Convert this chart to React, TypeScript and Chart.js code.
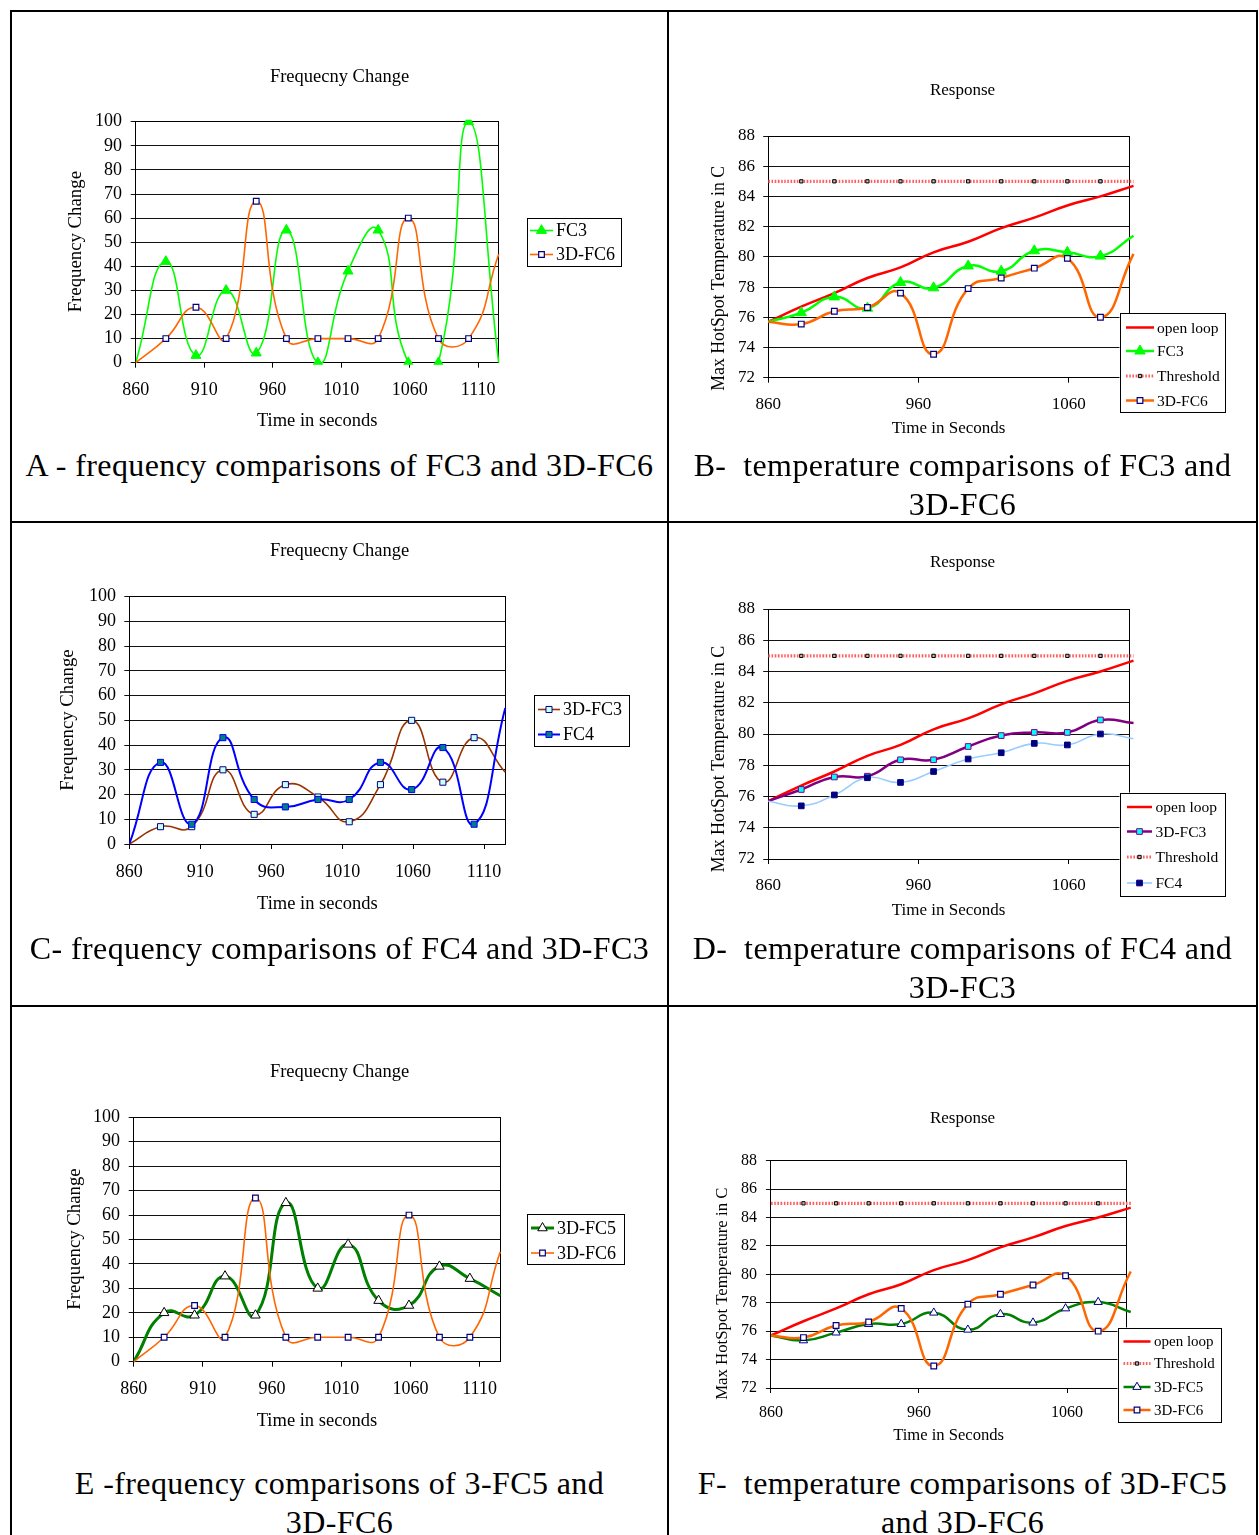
import React, { useEffect, useRef } from 'react';
import { Chart, registerables } from 'chart.js';

Chart.register(...registerables);
Chart.defaults.font.family = '"Liberation Serif", "Times New Roman", serif';
Chart.defaults.color = '#000';

// ---------------- DATA ----------------
const timeSec = [860, 882, 904, 926, 948, 970, 993, 1015, 1037, 1059, 1081, 1103, 1125];
const freqTicks = [860, 910, 960, 1010, 1060, 1110];
const tempTicks = [860, 960, 1060];

const freqFC3 = [0, 42, 3, 30, 4, 55, 0, 38, 55, 0, 0, 100, 0];
const freq3DFC6 = [0, 10, 23, 10, 67, 10, 10, 10, 10, 60, 10, 10, 45];
const freq3DFC3 = [0, 7, 7, 30, 12, 24, 19, 9, 24, 50, 25, 43, 29];
const freqFC4 = [0, 33, 8, 43, 18, 15, 18, 18, 33, 22, 39, 8, 55];
const freq3DFC5 = [0, 20, 19, 35, 19, 65, 30, 48, 25, 23, 39, 34, 27];

const tempOpenLoop = [75.7, 76.7, 77.6, 78.6, 79.3, 80.3, 81.0, 81.9, 82.6, 83.4, 84.0, 84.7];
const tempThreshold = [85, 85, 85, 85, 85, 85, 85, 85, 85, 85, 85, 85];
const tempFC3 = [75.7, 76.3, 77.35, 76.6, 78.3, 77.95, 79.4, 79.05, 80.4, 80.3, 80.05, 81.4];
const temp3DFC6 = [75.7, 75.55, 76.4, 76.65, 77.6, 73.55, 77.9, 78.6, 79.25, 79.9, 76.0, 80.2];
const temp3DFC3 = [75.7, 76.45, 77.25, 77.3, 78.35, 78.35, 79.2, 79.9, 80.1, 80.1, 80.9, 80.7];
const tempFC4 = [75.7, 75.4, 76.1, 77.2, 76.9, 77.6, 78.4, 78.8, 79.4, 79.3, 80.0, 79.7];
const temp3DFC5 = [75.7, 75.35, 75.9, 76.5, 76.5, 77.3, 76.1, 77.2, 76.6, 77.6, 78.05, 77.35];

// ---------------- TYPES ----------------
type Geom = {
  canvas: { l: number; t: number; w: number; h: number };
  titleY: number;
  area: { l: number; r: number; t: number; b: number };
  yTitleX: number;
  yTitleY: number;
  xTitleY: number;
  xLabelY: number;
  yLabelRight: number;
  fonts: { title: number; yTitle: number; xTitle: number; tick: number };
};
type Legend = {
  x: number; y: number; w: number; h: number; rows: number[];
  lineX0: number; lineX1: number; markerX: number; textX: number; font: number;
};
type Series = {
  label: string; data: number[]; color: string; width: number; dash?: number[];
  marker: 'triangle' | 'rect' | 'none'; r: number; fill: string; stroke: string; strokeW: number;
};
type Spec = {
  geom: Geom; title: string; xTitle: string; yTitle: string;
  xMin: number; xMax: number; xTicks: number[]; yMin: number; yMax: number; yStep: number;
  series: Series[]; legend: Legend;
};

const TICK = 5;
const FONT = '"Liberation Serif", "Times New Roman", serif';

// ---------------- STYLES ----------------
const sOpen = (w = 2.5): Omit<Series, 'data'> => ({ label: 'open loop', color: '#FF0000', width: w, marker: 'none', r: 0, fill: '#FF0000', stroke: '#FF0000', strokeW: 0 });
const sThresh = (): Omit<Series, 'data'> => ({ label: 'Threshold', color: '#FF5E5E', width: 3.2, dash: [1.6, 1.6], marker: 'rect', r: 2.3, fill: '#BBBBBB', stroke: '#000000', strokeW: 1 });
const sFC6 = (w: number): Omit<Series, 'data'> => ({ label: '3D-FC6', color: '#FF6600', width: w, marker: 'rect', r: 4, fill: '#FFFFFF', stroke: '#000080', strokeW: 1.2 });

function S(base: Omit<Series, 'data'>, data: number[]): Series { return { ...base, data }; }

const freqFonts = { title: 18.5, yTitle: 18.8, xTitle: 18.5, tick: 18 };

const specs: Spec[] = [
  {
    geom: { canvas: { l: 12, t: 12, w: 655, h: 425 }, titleY: 77, area: { l: 135.7, r: 498.7, t: 121.7, b: 362.7 }, yTitleX: 76, yTitleY: 241.7, xTitleY: 421, xLabelY: 390, yLabelRight: 122, fonts: freqFonts },
    title: 'Frequecny Change', xTitle: 'Time in seconds', yTitle: 'Frequency Change',
    xMin: 860, xMax: 1125, xTicks: freqTicks, yMin: 0, yMax: 100, yStep: 10,
    series: [
      S({ label: 'FC3', color: '#00FF00', width: 1.6, marker: 'triangle', r: 5.8, fill: '#00FF00', stroke: '#00FF00', strokeW: 1 }, freqFC3),
      S(sFC6(1.6), freq3DFC6),
    ],
    legend: { x: 527, y: 218, w: 94, h: 48, rows: [230.5, 254.5], lineX0: 530, lineX1: 553, markerX: 541.5, textX: 556, font: 18 },
  },
  {
    geom: { canvas: { l: 669, t: 12, w: 587, h: 440 }, titleY: 91, area: { l: 768.2, r: 1129, t: 136, b: 377.7 }, yTitleX: 719.6, yTitleY: 278.3, xTitleY: 428.3, xLabelY: 404.3, yLabelRight: 755, fonts: { title: 17, yTitle: 17.8, xTitle: 17, tick: 17 } },
    title: 'Response', xTitle: 'Time in Seconds', yTitle: 'Max HotSpot Temperature in C',
    xMin: 860, xMax: 1100, xTicks: tempTicks, yMin: 72, yMax: 88, yStep: 2,
    series: [
      S(sOpen(), tempOpenLoop),
      S({ label: 'FC3', color: '#00FF00', width: 2.5, marker: 'triangle', r: 6, fill: '#00FF00', stroke: '#00FF00', strokeW: 1 }, tempFC3),
      S(sThresh(), tempThreshold),
      S(sFC6(2.5), temp3DFC6),
    ],
    legend: { x: 1119.5, y: 313, w: 105, h: 99, rows: [327.5, 351, 376, 400.5], lineX0: 1126, lineX1: 1154, markerX: 1140, textX: 1157, font: 15.5 },
  },
  {
    geom: { canvas: { l: 12, t: 524, w: 655, h: 425 }, titleY: 551, area: { l: 129.3, r: 505.3, t: 596.7, b: 844 }, yTitleX: 68, yTitleY: 720, xTitleY: 904, xLabelY: 872, yLabelRight: 116, fonts: freqFonts },
    title: 'Frequecny Change', xTitle: 'Time in seconds', yTitle: 'Frequency Change',
    xMin: 860, xMax: 1125, xTicks: freqTicks, yMin: 0, yMax: 100, yStep: 10,
    series: [
      S({ label: '3D-FC3', color: '#993300', width: 1.6, marker: 'rect', r: 4.3, fill: '#CCFFFF', stroke: '#000080', strokeW: 1 }, freq3DFC3),
      S({ label: 'FC4', color: '#0000FF', width: 2, marker: 'rect', r: 4.3, fill: '#008080', stroke: '#0000FF', strokeW: 1 }, freqFC4),
    ],
    legend: { x: 534, y: 694.5, w: 95, h: 51, rows: [709.5, 734.5], lineX0: 538, lineX1: 560, markerX: 549, textX: 563, font: 18 },
  },
  {
    geom: { canvas: { l: 669, t: 524, w: 587, h: 440 }, titleY: 563, area: { l: 768.2, r: 1129, t: 609, b: 859 }, yTitleX: 719.6, yTitleY: 759, xTitleY: 910.7, xLabelY: 886, yLabelRight: 755, fonts: { title: 17, yTitle: 17.9, xTitle: 17, tick: 17 } },
    title: 'Response', xTitle: 'Time in Seconds', yTitle: 'Max HotSpot Temperature in C',
    xMin: 860, xMax: 1100, xTicks: tempTicks, yMin: 72, yMax: 88, yStep: 2,
    series: [
      S(sOpen(), tempOpenLoop),
      S({ label: '3D-FC3', color: '#800080', width: 2.5, marker: 'rect', r: 4, fill: '#00FFFF', stroke: '#800080', strokeW: 1 }, temp3DFC3),
      S(sThresh(), tempThreshold),
      S({ label: 'FC4', color: '#99CCFF', width: 1.6, marker: 'rect', r: 4, fill: '#000080', stroke: '#000080', strokeW: 1 }, tempFC4),
    ],
    legend: { x: 1119.5, y: 792.5, w: 105, h: 102.5, rows: [807, 831.5, 857, 883], lineX0: 1127, lineX1: 1152, markerX: 1139.5, textX: 1155.5, font: 15.5 },
  },
  {
    geom: { canvas: { l: 12, t: 1008, w: 655, h: 425 }, titleY: 1072, area: { l: 133.7, r: 500.3, t: 1117.3, b: 1361.7 }, yTitleX: 75, yTitleY: 1239, xTitleY: 1421, xLabelY: 1389, yLabelRight: 120, fonts: freqFonts },
    title: 'Frequecny Change', xTitle: 'Time in seconds', yTitle: 'Frequency Change',
    xMin: 860, xMax: 1125, xTicks: freqTicks, yMin: 0, yMax: 100, yStep: 10,
    series: [
      S({ label: '3D-FC5', color: '#008000', width: 3, marker: 'triangle', r: 5.5, fill: '#FFFFFF', stroke: '#000000', strokeW: 1 }, freq3DFC5),
      S(sFC6(1.6), freq3DFC6),
    ],
    legend: { x: 527, y: 1214, w: 97, h: 50, rows: [1228, 1253], lineX0: 531, lineX1: 554, markerX: 542.5, textX: 557, font: 18 },
  },
  {
    geom: { canvas: { l: 669, t: 1008, w: 587, h: 440 }, titleY: 1119, area: { l: 770.9, r: 1126.3, t: 1160.7, b: 1388 }, yTitleX: 722.4, yTitleY: 1293.7, xTitleY: 1435.7, xLabelY: 1412.7, yLabelRight: 757, fonts: { title: 17, yTitle: 16.8, xTitle: 16.6, tick: 16 } },
    title: 'Response', xTitle: 'Time in Seconds', yTitle: 'Max HotSpot Temperature in C',
    xMin: 860, xMax: 1100, xTicks: tempTicks, yMin: 72, yMax: 88, yStep: 2,
    series: [
      S(sOpen(), tempOpenLoop),
      S(sThresh(), tempThreshold),
      S({ label: '3D-FC5', color: '#008000', width: 2.5, marker: 'triangle', r: 4.8, fill: '#FFFFFF', stroke: '#000080', strokeW: 1 }, temp3DFC5),
      S(sFC6(2.5), temp3DFC6),
    ],
    legend: { x: 1117.5, y: 1327.5, w: 103, h: 93.5, rows: [1341.5, 1363.5, 1387, 1410], lineX0: 1123.5, lineX1: 1150.5, markerX: 1137, textX: 1154, font: 15 },
  },
];

const captions = [
  { l: 12, w: 655, t: 445.5, lines: ['A - frequency comparisons of FC3 and 3D-FC6'] },
  { l: 669, w: 587, t: 445.5, lines: ['B-  temperature comparisons of FC3 and', '3D-FC6'] },
  { l: 12, w: 655, t: 928.5, lines: ['C- frequency comparisons of FC4 and 3D-FC3'] },
  { l: 669, w: 587, t: 928.5, lines: ['D-  temperature comparisons of FC4 and', '3D-FC3'] },
  { l: 12, w: 655, t: 1464, lines: ['E -frequency comparisons of 3-FC5 and', '3D-FC6'] },
  { l: 669, w: 587, t: 1464, lines: ['F-  temperature comparisons of 3D-FC5', 'and 3D-FC6'] },
];

// ---------------- DRAW HELPERS ----------------
function drawMarker(ctx: CanvasRenderingContext2D, s: Series, x: number, y: number) {
  const r = s.r;
  ctx.beginPath();
  if (s.marker === 'triangle') {
    ctx.moveTo(x, y - r);
    ctx.lineTo(x + 0.866 * r, y + 0.5 * r);
    ctx.lineTo(x - 0.866 * r, y + 0.5 * r);
    ctx.closePath();
  } else {
    const h = Math.SQRT1_2 * r;
    ctx.rect(x - h, y - h, 2 * h, 2 * h);
  }
  ctx.fillStyle = s.fill;
  ctx.fill();
  ctx.lineWidth = s.strokeW;
  ctx.strokeStyle = s.stroke;
  ctx.setLineDash([]);
  ctx.stroke();
}

function decorPlugin(spec: Spec) {
  const L = spec.legend;
  const g = spec.geom;
  const c = g.canvas;
  return {
    id: 'decor',
    afterDraw(chart: any) {
      const ctx: CanvasRenderingContext2D = chart.ctx;
      const ox = -c.l;
      const oy = -c.t;
      ctx.save();
      // y axis title
      ctx.save();
      ctx.translate(g.yTitleX + ox, g.yTitleY + oy);
      ctx.rotate(-Math.PI / 2);
      ctx.fillStyle = '#000';
      ctx.font = `${g.fonts.yTitle}px ${FONT}`;
      ctx.textAlign = 'center';
      ctx.textBaseline = 'middle';
      ctx.fillText(spec.yTitle, 0, 0);
      ctx.restore();
      // legend box
      ctx.fillStyle = '#FFFFFF';
      ctx.fillRect(L.x + ox, L.y + oy, L.w, L.h);
      ctx.strokeStyle = '#000';
      ctx.lineWidth = 1;
      ctx.strokeRect(Math.round(L.x + ox) + 0.5, Math.round(L.y + oy) + 0.5, Math.round(L.w), Math.round(L.h));
      spec.series.forEach((s, i) => {
        const cy = L.rows[i] + oy;
        ctx.beginPath();
        ctx.setLineDash(s.dash || []);
        ctx.strokeStyle = s.color;
        ctx.lineWidth = s.width;
        ctx.moveTo(L.lineX0 + ox, cy);
        ctx.lineTo(L.lineX1 + ox, cy);
        ctx.stroke();
        ctx.setLineDash([]);
        if (s.marker !== 'none') drawMarker(ctx, s, L.markerX + ox, cy);
        ctx.fillStyle = '#000';
        ctx.font = `${L.font}px ${FONT}`;
        ctx.textAlign = 'left';
        ctx.textBaseline = 'middle';
        ctx.fillText(s.label, L.textX + ox, cy + 1);
      });
      ctx.restore();
    },
  };
}

const framePlugin = {
  id: 'plotFrame',
  beforeDatasetsDraw(chart: any) {
    const { left, top, right, bottom } = chart.chartArea;
    const ctx: CanvasRenderingContext2D = chart.ctx;
    const a = (p: number) => Math.round(p - 0.5) + 0.5;
    ctx.save();
    ctx.strokeStyle = '#000';
    ctx.lineWidth = 1;
    ctx.strokeRect(a(left), a(top), a(right) - a(left), a(bottom) - a(top));
    ctx.restore();
  },
};

function buildConfig(spec: Spec): any {
  const g = spec.geom;
  const c = g.canvas;
  const tLH = g.fonts.title * 1.2;
  const titlePadTop = g.titleY - c.t - tLH / 2;
  const titlePadBottom = g.area.t - c.t - titlePadTop - tLH;
  const yAxisW = g.area.l - c.l;
  const rightW = c.l + c.w - g.area.r;
  const xAxisH = c.t + c.h - g.area.b;
  const xTitlePadBottom = c.t + c.h - g.xTitleY - (g.fonts.xTitle * 1.2) / 2;
  const xTickPad = g.xLabelY - g.area.b - TICK - (g.fonts.tick * 1.2) / 2;
  const yTickPad = g.area.l - TICK - g.yLabelRight;

  const datasets = spec.series.map((s, i) => ({
    label: s.label,
    data: s.data.map((v, j) => ({ x: timeSec[j], y: v })),
    borderColor: s.color,
    backgroundColor: s.fill,
    borderWidth: s.width,
    borderDash: s.dash || [],
    pointStyle: s.marker === 'none' ? 'circle' : s.marker,
    pointRadius: (ctx: any) =>
      s.marker === 'none' || ctx.dataIndex === 0 || ctx.dataIndex === s.data.length - 1 ? 0 : s.r,
    pointHoverRadius: 0,
    pointBackgroundColor: s.fill,
    pointBorderColor: s.stroke,
    pointBorderWidth: s.strokeW,
    tension: 0.5,
    fill: false,
    order: -i,
    clip: { left: 0, top: 2, right: 6, bottom: 2 },
  }));

  return {
    type: 'line',
    data: { datasets },
    options: {
      responsive: false,
      animation: false,
      devicePixelRatio: 1,
      events: [],
      layout: { padding: 0 },
      elements: { line: { capBezierPoints: false } },
      plugins: {
        legend: { display: false },
        tooltip: { enabled: false },
        title: {
          display: true,
          text: spec.title,
          color: '#000',
          font: { size: g.fonts.title, weight: 'normal' },
          padding: { top: titlePadTop, bottom: titlePadBottom },
        },
      },
      scales: {
        x: {
          type: 'linear',
          position: 'bottom',
          min: spec.xMin,
          max: spec.xMax,
          afterBuildTicks: (scale: any) => {
            scale.ticks = spec.xTicks.map((v) => ({ value: v }));
          },
          afterFit: (scale: any) => {
            scale.height = xAxisH;
          },
          grid: { display: true, drawOnChartArea: false, drawTicks: true, tickLength: TICK, color: '#000', lineWidth: 1 },
          border: { display: true, color: '#000', width: 1 },
          ticks: {
            color: '#000',
            padding: xTickPad,
            font: { size: g.fonts.tick },
            maxRotation: 0,
            autoSkip: false,
            callback: (v: any) => String(v),
          },
          title: {
            display: true,
            text: spec.xTitle,
            color: '#000',
            font: { size: g.fonts.xTitle },
            padding: { top: 0, bottom: xTitlePadBottom },
          },
        },
        y: {
          type: 'linear',
          position: 'left',
          min: spec.yMin,
          max: spec.yMax,
          afterFit: (scale: any) => {
            scale.width = yAxisW;
          },
          grid: { display: true, drawOnChartArea: true, drawTicks: true, tickLength: TICK, color: '#111', lineWidth: 1 },
          border: { display: true, color: '#000', width: 1 },
          ticks: {
            color: '#000',
            stepSize: spec.yStep,
            autoSkip: false,
            padding: yTickPad,
            font: { size: g.fonts.tick },
            callback: (v: any) => String(v),
          },
          title: { display: false },
        },
        yRight: {
          type: 'linear',
          axis: 'y',
          position: 'right',
          display: true,
          afterFit: (scale: any) => {
            scale.width = rightW;
          },
          grid: { display: false, drawTicks: false },
          border: { display: false },
          ticks: { display: false },
        },
      },
    },
    plugins: [framePlugin, decorPlugin(spec)],
  };
}

function ChartBox({ spec }: { spec: Spec }) {
  const ref = useRef<HTMLCanvasElement | null>(null);
  useEffect(() => {
    if (!ref.current) return;
    const chart = new Chart(ref.current, buildConfig(spec));
    return () => chart.destroy();
  }, [spec]);
  const c = spec.geom.canvas;
  return (
    <canvas
      ref={ref}
      width={c.w}
      height={c.h}
      style={{ position: 'absolute', left: c.l, top: c.t, width: c.w, height: c.h }}
    />
  );
}

const lineStyle = (l: number, t: number, w: number, h: number): React.CSSProperties => ({
  position: 'absolute', left: l, top: t, width: w, height: h, background: '#000',
});

export default function App() {
  return (
    <div style={{ position: 'absolute', left: 0, top: 0, width: 1259, height: 1535, background: '#fff', overflow: 'hidden' }}>
      {specs.map((s, i) => (
        <ChartBox key={i} spec={s} />
      ))}
      {captions.map((c, i) => (
        <div
          key={'cap' + i}
          style={{
            position: 'absolute', left: c.l, top: c.t, width: c.w, textAlign: 'center',
            fontFamily: FONT, fontSize: 32, lineHeight: '39px',
            letterSpacing: 0.4, whiteSpace: 'pre', color: '#000',
          }}
        >
          {c.lines.map((ln, j) => (
            <div key={j}>{ln}</div>
          ))}
        </div>
      ))}
      <div style={lineStyle(10, 10, 1248, 2)} />
      <div style={lineStyle(10, 10, 2, 1525)} />
      <div style={lineStyle(1256, 10, 2, 1525)} />
      <div style={lineStyle(667, 10, 2, 1525)} />
      <div style={lineStyle(10, 521, 1248, 2)} />
      <div style={lineStyle(10, 1005, 1248, 2)} />
    </div>
  );
}
